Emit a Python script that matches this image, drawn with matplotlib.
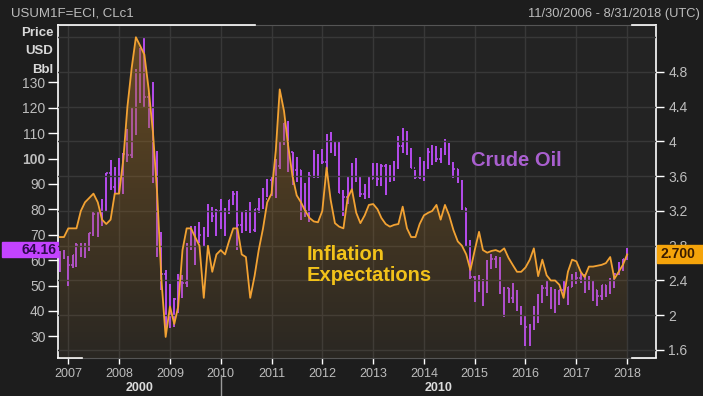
"""Eikon-style dual axis chart: WTI crude (CLc1, monthly OHLC bars, left axis)
vs UMich 1-yr inflation expectations (USUM1F=ECI, right axis)."""
import matplotlib
matplotlib.use("Agg")
import matplotlib.pyplot as plt
import matplotlib.dates as mdates
from matplotlib.patches import Rectangle
import numpy as np
import pandas as pd

plt.rcParams["font.family"] = ["Liberation Sans", "DejaVu Sans"]

# --- DATA (monthly, Nov 2006 .. Jan 2018) ---
MONTHS = pd.date_range("2006-11-01", "2018-01-01", freq="MS")

OIL_OPEN0 = 59.0
OIL_HIGH = [
    63.5, 64.0,
    61.5, 62.0, 66.7, 66.9, 66.6, 70.9, 78.8, 78.8, 83.9, 94.5, 99.3, 96.8,
    100.1, 102.1, 111.8, 119.9, 135.1, 143.7, 147.3, 126.0, 130.0, 103.0, 71.0, 56.0,
    50.5, 45.2, 54.7, 54.0, 66.6, 73.4, 73.4, 75.0, 73.0, 82.0, 81.0, 80.0,
    83.9, 80.5, 83.8, 87.1, 87.2, 79.2, 79.9, 83.0, 80.0, 84.4, 88.6, 92.1,
    92.6, 99.9, 106.9, 113.9, 114.8, 102.6, 100.6, 95.7, 90.5, 94.7, 103.4, 101.8,
    103.7, 109.8, 110.6, 106.4, 106.9, 87.6, 92.9, 98.3, 100.4, 93.0, 89.9, 93.0,
    98.2, 98.2, 97.8, 97.8, 97.3, 99.0, 108.9, 112.2, 110.7, 104.2, 95.5, 100.8,
    98.9, 104.0, 105.2, 104.9, 104.2, 107.7, 106.0, 98.7, 95.9, 91.4, 80.7, 68.0,
    53.9, 54.2, 52.5, 59.9, 62.6, 61.8, 61.3, 49.4, 49.0, 50.9, 48.4, 42.0,
    38.4, 34.8, 41.9, 46.8, 50.2, 51.7, 49.5, 48.8, 48.4, 51.9, 49.5, 54.5,
    55.2, 54.9, 54.1, 53.8, 52.0, 48.4, 50.4, 50.2, 52.9, 54.8, 59.1, 60.5,
    64.8,
]
OIL_LOW = [
    55.3, 60.5,
    49.9, 56.9, 57.4, 61.4, 60.8, 63.6, 69.4, 69.0, 73.6, 79.0, 87.5, 86.0,
    86.1, 86.1, 98.7, 100.1, 109.1, 122.0, 120.4, 112.0, 90.5, 61.3, 48.3, 32.4,
    33.2, 33.6, 39.4, 45.0, 49.3, 64.2, 58.3, 66.6, 65.1, 69.0, 75.2, 69.5,
    72.4, 69.5, 78.0, 81.9, 64.2, 70.8, 71.6, 70.8, 71.0, 78.5, 80.1, 85.0,
    85.1, 84.4, 96.0, 105.5, 94.6, 89.7, 90.6, 75.7, 77.1, 74.9, 92.4, 92.5,
    97.8, 95.4, 102.2, 101.2, 86.5, 77.3, 82.1, 87.6, 90.6, 85.0, 84.1, 84.5,
    91.8, 89.3, 89.3, 85.6, 90.8, 91.2, 95.9, 102.2, 101.5, 96.1, 91.8, 91.8,
    91.2, 96.0, 97.4, 98.7, 98.3, 101.6, 97.4, 92.5, 90.4, 79.8, 65.7, 52.4,
    43.6, 47.4, 42.0, 47.0, 56.5, 57.0, 46.7, 37.8, 43.2, 43.0, 40.0, 34.5,
    26.2, 26.1, 32.5, 35.2, 43.0, 46.0, 40.6, 39.2, 42.5, 46.6, 42.2, 49.5,
    50.7, 51.2, 47.1, 48.2, 43.8, 42.1, 44.3, 45.6, 46.6, 49.1, 54.2, 55.8,
    60.0,
]
OIL_CLOSE = [
    62.9, 61.0,
    58.1, 62.0, 65.9, 65.7, 64.0, 70.7, 78.2, 74.0, 81.7, 94.5, 88.7, 96.0,
    91.8, 101.8, 101.6, 113.5, 127.4, 140.0, 124.1, 115.5, 100.6, 67.8, 54.4, 44.6,
    41.7, 44.8, 49.7, 51.1, 66.3, 69.9, 69.5, 69.9, 70.6, 77.0, 77.3, 79.4,
    72.9, 79.7, 83.8, 86.2, 74.0, 75.6, 79.0, 71.9, 80.0, 81.4, 84.1, 91.4,
    92.2, 97.0, 106.7, 113.9, 102.7, 95.4, 95.7, 88.8, 79.2, 93.2, 100.4, 98.8,
    98.5, 107.1, 103.0, 104.9, 86.5, 85.0, 88.1, 96.5, 92.2, 86.2, 88.9, 91.8,
    97.5, 92.1, 97.2, 93.5, 92.0, 96.6, 105.0, 107.7, 102.3, 96.4, 92.7, 98.4,
    97.5, 102.6, 101.6, 99.7, 102.7, 105.4, 98.2, 96.0, 91.2, 80.5, 66.2, 53.3,
    48.2, 49.8, 47.6, 59.6, 60.3, 59.5, 47.1, 49.2, 45.1, 46.6, 41.7, 37.0,
    33.6, 33.8, 38.3, 45.9, 49.1, 48.3, 41.6, 44.7, 48.2, 46.9, 49.4, 53.7,
    52.8, 54.0, 50.6, 49.3, 48.3, 46.0, 50.2, 47.2, 51.7, 54.4, 57.4, 60.4,
    64.16,
]
INFL = [
    2.9, 2.9,
    3.0, 3.0, 3.0, 3.2, 3.3, 3.35, 3.4, 3.3, 3.1, 3.05, 3.1, 3.4,
    3.4, 3.8, 4.4, 4.85, 5.2, 5.1, 5.0, 4.6, 4.1, 3.4, 2.4, 1.75,
    2.1, 1.9, 2.1, 2.75, 3.0, 3.0, 2.9, 2.8, 2.2, 2.8, 2.5, 2.7,
    2.75, 2.7, 2.85, 3.0, 3.0, 2.7, 2.67, 2.2, 2.45, 2.75, 3.0, 3.3,
    3.4, 3.9, 4.6, 4.35, 3.95, 3.6, 3.38, 3.3, 3.2, 3.12, 3.08, 3.07,
    3.2, 3.7, 3.33, 3.06, 3.02, 3.0, 3.35, 3.45, 3.18, 3.06, 3.15, 3.27,
    3.28, 3.22, 3.12, 3.05, 3.02, 3.04, 3.05, 3.25, 3.0, 2.9, 2.9, 3.05,
    3.15, 3.18, 3.2, 3.27, 3.1, 3.27, 3.15, 2.98, 2.85, 2.8, 2.7, 2.52,
    2.75, 2.96, 2.75, 2.72, 2.74, 2.75, 2.73, 2.77, 2.66, 2.58, 2.5, 2.5,
    2.55, 2.64, 2.77, 2.45, 2.64, 2.46, 2.4, 2.4, 2.35, 2.2, 2.5, 2.64,
    2.62, 2.5, 2.44, 2.56, 2.56, 2.57, 2.58, 2.6, 2.67, 2.42, 2.5, 2.58,
    2.7,
]

LEFT_TICKS = [30, 40, 50, 60, 70, 80, 90, 100, 110, 120, 130]
RIGHT_TICKS = [1.6, 2.0, 2.4, 2.8, 3.2, 3.6, 4.0, 4.4, 4.8]
GRID_LEVELS = RIGHT_TICKS + [5.2]
OIL_TAG, INFL_TAG = "64.16", "2.700"

# --- STYLE ---
BG_FIG, BG_AX = "#1d1d1d", "#232323"
C_OIL, C_INFL = "#b54cee", "#f2a233"
C_GRID = "#383838"
C_TXT = "#bdbdbd"
XLIM = ("2006-10-19", "2018-07-27")
YL = (21.5, 152.6)
YR = (1.508, 5.341)


def main():
    fig = plt.figure(figsize=(7.03, 3.96), dpi=100, facecolor=BG_FIG)
    ax = fig.add_axes([0.0825, 0.096, 0.8506, 0.8409])
    ax.set_facecolor(BG_AX)
    axR = ax.twinx()

    x = mdates.date2num(MONTHS)
    opens = [OIL_OPEN0] + OIL_CLOSE[:-1]

    # vertical year grid
    ax.xaxis.set_major_locator(mdates.YearLocator())
    ax.xaxis.set_major_formatter(mdates.DateFormatter("%Y"))
    ax.grid(True, axis="x", color=C_GRID, lw=1.0)
    ax.set_axisbelow(True)

    # crude oil OHLC bars
    ax.vlines(x, OIL_LOW, OIL_HIGH, color=C_OIL, lw=1.4, zorder=3)
    ax.hlines(opens, x - 9, x, color=C_OIL, lw=1.2, zorder=3)
    ax.hlines(OIL_CLOSE, x, x + 9, color=C_OIL, lw=1.2, zorder=3)

    # inflation expectations: gradient fill + line
    for lv in GRID_LEVELS:
        axR.axhline(lv, color=C_GRID, lw=1.0, zorder=0)
    poly = axR.fill_between(x, INFL, YR[0], color="none", lw=0)
    rgba = np.zeros((256, 1, 4))
    rgba[..., 0], rgba[..., 1], rgba[..., 2] = 0.62, 0.42, 0.13
    rgba[..., 3] = np.linspace(0.55, 0.06, 256)[:, None]
    im = axR.imshow(rgba, extent=[x[0], x[-1], YR[0], YR[1]], aspect="auto",
                    origin="upper", zorder=1)
    im.set_clip_path(poly.get_paths()[0], transform=axR.transData)
    axR.plot(x, INFL, color=C_INFL, lw=1.3, zorder=4)

    # limits
    ax.set_xlim(pd.Timestamp(XLIM[0]), pd.Timestamp(XLIM[1]))
    ax.set_ylim(*YL)
    axR.set_ylim(*YR)

    # ticks
    ax.set_yticks(LEFT_TICKS, [str(v) for v in LEFT_TICKS])
    for t in ax.get_yticklabels():
        if t.get_text() == "100":
            t.set_fontweight("bold")
            t.set_color("#f0f0f0")
    axR.set_yticks(RIGHT_TICKS, [f"{v:g}" for v in RIGHT_TICKS])
    ax.tick_params(axis="y", colors="white", labelcolor=C_TXT, length=7,
                   width=1, pad=2, labelsize=10)
    axR.tick_params(axis="y", colors="white", labelcolor=C_TXT, length=6,
                    width=1, pad=3, labelsize=10)
    ax.tick_params(axis="x", colors="white", labelcolor=C_TXT, length=4,
                   width=1, pad=3, labelsize=9)

    # frame
    for s in axR.spines.values():
        s.set_visible(False)
    for s in ("left", "right"):
        ax.spines[s].set_color("white")
        ax.spines[s].set_linewidth(1.2)
    for s in ("top", "bottom"):
        ax.spines[s].set_color("#555555")
    for xs, ys in (([0, 0.33], [1, 1]), ([0.96, 1], [1, 1]),
                   ([0, 0.04], [0, 0]), ([0.96, 1], [0, 0])):
        ax.plot(xs, ys, color="white", lw=1.2, transform=ax.transAxes,
                clip_on=False, zorder=6)

    # decade labels under the year axis
    xt = ax.get_xaxis_transform()
    x0, x1 = ax.get_xlim()
    x2010 = mdates.date2num(pd.Timestamp("2010-01-01"))
    ax.text((x0 + x2010) / 2, -0.09, "2000", transform=xt, ha="center",
            va="center", fontsize=9, fontweight="bold", color="#dcdcdc")
    ax.text((x2010 + x1) / 2, -0.09, "2010", transform=xt, ha="center",
            va="center", fontsize=9, fontweight="bold", color="#dcdcdc")
    ax.plot([x2010, x2010], [-0.05, -0.12], transform=xt, color="#9a9a9a",
            lw=1, clip_on=False)

    # last-value tags
    yt = ax.get_yaxis_transform()
    ax.add_patch(Rectangle((-0.0936, OIL_CLOSE[-1] - 2.95), 0.0936, 5.9,
                           transform=yt, color="#c443ff", clip_on=False, zorder=8))
    ax.text(-0.002, OIL_CLOSE[-1], OIL_TAG, transform=yt, ha="right", va="center",
            fontsize=10, fontweight="bold", color="#2e0a4d", zorder=9, clip_on=False)
    ytR = axR.get_yaxis_transform()
    axR.add_patch(Rectangle((1.002, INFL[-1] - 0.103), 0.08, 0.206,
                            transform=ytR, color="#f5a40a", clip_on=False, zorder=8))
    axR.text(1.007, INFL[-1], INFL_TAG, transform=ytR, ha="left", va="center",
             fontsize=10, fontweight="bold", color="#3a1c00", zorder=9, clip_on=False)

    # series labels (on the top axes so they sit above the fill)
    axR.text(0.766, 0.592, "Crude Oil", transform=axR.transAxes, ha="center",
             va="center", fontsize=14.5, fontweight="bold", color="#a95fcf", zorder=7)
    axR.text(0.416, 0.28, "Inflation\nExpectations", transform=axR.transAxes,
             ha="left", va="center", fontsize=14.5, fontweight="bold",
             color="#f2c21a", linespacing=1.15, zorder=7)

    # header texts
    fig.text(0.016, 0.965, "USUM1F=ECI, CLc1", ha="left", va="center",
             fontsize=9.5, color=C_TXT)
    fig.text(0.996, 0.965, "11/30/2006 - 8/31/2018 (UTC)", ha="right",
             va="center", fontsize=9.3, color=C_TXT)
    for txt, yy in (("Price", 0.917), ("USD", 0.870), ("Bbl", 0.823)):
        fig.text(0.076, yy, txt, ha="right", va="center", fontsize=9.5,
                 fontweight="bold", color="#d8d8d8")

    fig.savefig("out.png", dpi=100, facecolor=BG_FIG)


if __name__ == "__main__":
    main()
